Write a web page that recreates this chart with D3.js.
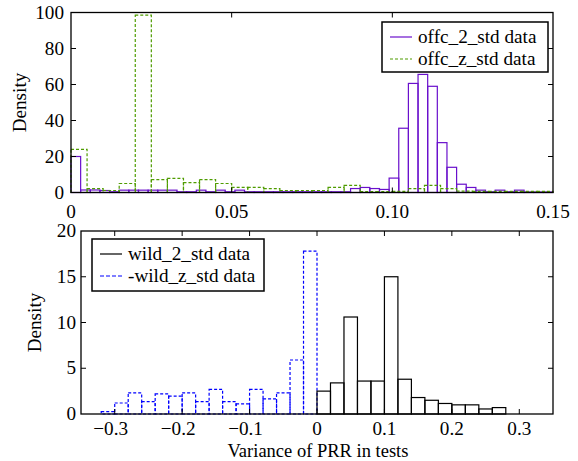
<!DOCTYPE html>
<html>
<head>
<meta charset="utf-8">
<script src="https://cdn.jsdelivr.net/npm/d3@7"></script>
<style>
  body { margin: 0; background: #fff; }
  text { font-family: "Liberation Serif", "DejaVu Serif", serif; fill: #000; }
</style>
</head>
<body>
<script>
// histogram data
var offc2Start = 0, offc2Width = 0.003;
var offc2Values = [20, 1.4, 1.4, 1.1, 0.4, 1.3, 1.3, 1.3, 1.3, 1.3, 1.3, 0.4, 0.4, 1.3, 0.4,
  1.3, 0.4, 1.3, 0.4, 0.4, 0.4, 0.4, 0.4, 0.4, 0.4, 0.4, 0.4, 0.4, 0.4, 2.2,
  2.8, 2.2, 1.7, 8, 35.7, 60.6, 65.6, 59, 27.7, 14, 4.6, 2.8, 1.3, 0.4, 1.3,
  0.4, 1.3, 0.3, 0.3, 0.3];
var offczStart = 0, offczWidth = 0.005;
var offczValues = [24, 2.2, 1.1, 5, 98.5, 7.2, 7.8, 5.5, 7.2, 5, 2.8, 2.8, 2.2, 1.1, 1.1,
  1.1, 2.8, 4, 0.5, 0.5, 0.6, 2.2, 4, 2.2, 0.8, 0.6, 0.6, 0.6, 0.6, 0.6];

var wildzStart = -0.32, wildzWidth = 0.02;
var wildzValues = [0.25, 1.2, 2.3, 1.35, 2.2, 1.95, 2.3, 1.35, 2.7, 1.35, 1.1, 2.7, 1.65, 2.3, 5.9, 17.8];
var wild2Start = 0, wild2Width = 0.02;
var wild2Values = [2.5, 3.4, 10.6, 3.6, 3.6, 15, 3.8, 1.8, 1.5, 1.15, 1.0, 1.0, 0.55, 0.7];

var topXTicks = [0, 0.05, 0.10, 0.15];
var topXLabels = ['0', '0.05', '0.10', '0.15'];
var topYTicks = [0, 20, 40, 60, 80, 100];
var botXTicks = [-0.3, -0.2, -0.1, 0, 0.1, 0.2, 0.3];
var botXLabels = ['\u22120.3', '\u22120.2', '\u22120.1', '0', '0.1', '0.2', '0.3'];
var botYTicks = [0, 5, 10, 15, 20];

var fontSize = 19.2;

var svg = d3.select('body').append('svg')
  .attr('width', 578)
  .attr('height', 461);

function bins(start, width, values) {
  return values.map(function(v, i) {
    return { x0: start + i * width, x1: start + (i + 1) * width, y: v };
  });
}

function panel(opts) {
  var x = d3.scaleLinear().domain(opts.xDomain).range([opts.left, opts.right]);
  var y = d3.scaleLinear().domain(opts.yDomain).range([opts.bottom, opts.top]);
  var g = svg.append('g');

  opts.series.forEach(function(s) {
    g.append('g').selectAll('rect')
      .data(bins(s.start, s.width, s.values))
      .enter()
      .append('rect')
      .attr('x', function(d) { return x(d.x0); })
      .attr('y', function(d) { return y(d.y); })
      .attr('width', function(d) { return x(d.x1) - x(d.x0); })
      .attr('height', function(d) { return y(0) - y(d.y); })
      .attr('fill', 'none')
      .attr('stroke', s.color)
      .attr('stroke-width', 1.2)
      .attr('stroke-dasharray', s.dash || null);
  });

  // inward ticks on all four sides
  var tl = 5;
  var xt = opts.xTicks.filter(function(t) { return x(t) > opts.left + 1 && x(t) < opts.right - 1; });
  var yt = opts.yTicks.filter(function(t) { return y(t) < opts.bottom - 1 && y(t) > opts.top + 1; });
  g.append('g').selectAll('line.xb').data(xt).enter().append('line')
    .attr('x1', x).attr('x2', x).attr('y1', opts.bottom).attr('y2', opts.bottom - tl)
    .attr('stroke', '#000');
  g.append('g').selectAll('line.xt').data(xt).enter().append('line')
    .attr('x1', x).attr('x2', x).attr('y1', opts.top).attr('y2', opts.top + tl)
    .attr('stroke', '#000');
  g.append('g').selectAll('line.yl').data(yt).enter().append('line')
    .attr('y1', y).attr('y2', y).attr('x1', opts.left).attr('x2', opts.left + tl)
    .attr('stroke', '#000');
  g.append('g').selectAll('line.yr').data(yt).enter().append('line')
    .attr('y1', y).attr('y2', y).attr('x1', opts.right).attr('x2', opts.right - tl)
    .attr('stroke', '#000');

  g.append('rect')
    .attr('x', opts.left).attr('y', opts.top)
    .attr('width', opts.right - opts.left).attr('height', opts.bottom - opts.top)
    .attr('fill', 'none').attr('stroke', '#000').attr('stroke-width', 1.3);

  // tick labels
  g.append('g').selectAll('text').data(opts.xTicks).enter().append('text')
    .attr('x', function(d, i) { return x(d) + (opts.xShift ? opts.xShift[i] : 0); })
    .attr('y', opts.bottom + opts.xGap)
    .attr('text-anchor', 'middle')
    .attr('font-size', fontSize)
    .text(function(d, i) { return opts.xLabels[i]; });
  g.append('g').selectAll('text').data(opts.yTicks).enter().append('text')
    .attr('x', opts.left - opts.yGap)
    .attr('y', function(d) { return y(d) + 6; })
    .attr('text-anchor', 'end')
    .attr('font-size', fontSize)
    .text(function(d) { return d; });

  g.append('text')
    .attr('transform', 'translate(' + opts.yLabelX + ',' + ((opts.top + opts.bottom) / 2) + ') rotate(-90)')
    .attr('text-anchor', 'middle')
    .attr('font-size', fontSize)
    .text('Density');

  // legend
  var L = opts.legend;
  g.append('rect')
    .attr('x', L.x).attr('y', L.y).attr('width', L.w).attr('height', L.h)
    .attr('fill', '#fff').attr('stroke', '#000').attr('stroke-width', 1.5);
  L.items.forEach(function(it, i) {
    var cy = L.y + 15 + i * 22;
    g.append('line')
      .attr('x1', L.x + 8).attr('x2', L.x + 30)
      .attr('y1', cy).attr('y2', cy)
      .attr('stroke', it.color).attr('stroke-width', 1.2)
      .attr('stroke-dasharray', it.dash || null);
    g.append('text')
      .attr('x', L.x + 36).attr('y', cy + 6)
      .attr('font-size', fontSize)
      .text(it.label);
  });
  return { x: x, y: y };
}

var purple = '#6a10cc', green = '#4f9c00', blue = '#0000ff';

panel({
  left: 71, right: 553, top: 12.5, bottom: 192.5,
  xDomain: [0, 0.15], yDomain: [0, 100],
  xTicks: topXTicks, xLabels: topXLabels, yTicks: topYTicks,
  xGap: 25, yGap: 7, yLabelX: 26,
  series: [
    { start: offc2Start, width: offc2Width, values: offc2Values, color: purple },
    { start: offczStart, width: offczWidth, values: offczValues, color: green, dash: '3,2' }
  ],
  legend: { x: 382, y: 22, w: 166, h: 50, items: [
    { label: 'offc_2_std data', color: purple },
    { label: 'offc_z_std data', color: green, dash: '3,2' }
  ] }
});

panel({
  left: 81, right: 553, top: 231, bottom: 414,
  xDomain: [-0.35, 0.35], yDomain: [0, 20],
  xTicks: botXTicks, xLabels: botXLabels, yTicks: botYTicks,
  xShift: [-4, -4, -4, 0, 0, 0, 0],
  xGap: 21, yGap: 5, yLabelX: 41,
  series: [
    { start: wildzStart, width: wildzWidth, values: wildzValues, color: blue, dash: '3,2' },
    { start: wild2Start, width: wild2Width, values: wild2Values, color: '#000' }
  ],
  legend: { x: 92, y: 239, w: 172, h: 52, items: [
    { label: 'wild_2_std data', color: '#000' },
    { label: '-wild_z_std data', color: blue, dash: '4,2' }
  ] }
});

svg.append('text')
  .attr('x', 318).attr('y', 456.5)
  .attr('text-anchor', 'middle')
  .attr('font-size', 18.5)
  .text('Variance of PRR in tests');
</script>
</body>
</html>
